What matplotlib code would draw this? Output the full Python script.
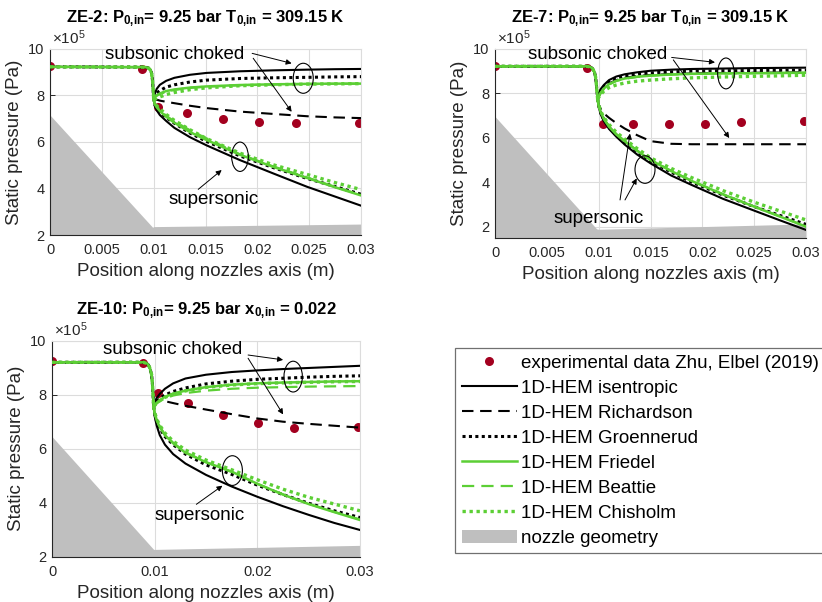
import matplotlib
matplotlib.use("Agg")
import matplotlib.pyplot as plt
from matplotlib.patches import Ellipse, Patch
from matplotlib.lines import Line2D

plt.rcParams['font.family'] = ['Liberation Sans', 'DejaVu Sans']
plt.rcParams['mathtext.fontset'] = 'custom'
plt.rcParams['mathtext.rm'] = 'Liberation Sans'
plt.rcParams['mathtext.bf'] = 'Liberation Sans:bold'
plt.rcParams['mathtext.it'] = 'Liberation Sans:italic'

# ---------------------------------------------------------------- data
# pressures in units of 1e5 Pa, positions in m
xtick_fine = [0, 0.005, 0.01, 0.015, 0.02, 0.025, 0.03]
xtick_fine_labels = ['0', '0.005', '0.01', '0.015', '0.02', '0.025', '0.03']
xtick_coarse = [0, 0.01, 0.02, 0.03]
xtick_coarse_labels = ['0', '0.01', '0.02', '0.03']
ytick_vals = [2, 4, 6, 8, 10]
ytick_labels = ['2', '4', '6', '8', '10']

legend_labels = ['experimental data Zhu, Elbel (2019)', '1D-HEM isentropic',
                 '1D-HEM Richardson', '1D-HEM Groennerud', '1D-HEM Friedel',
                 '1D-HEM Beattie', '1D-HEM Chisholm', 'nozzle geometry']

# ---- ZE-2
ze2_exp_x = [0.0, 0.00885, 0.01045, 0.0132, 0.0167, 0.0202, 0.0237, 0.0298]
ze2_exp_p = [9.27, 9.14, 7.51, 7.25, 6.97, 6.87, 6.81, 6.80]
ze2_inlet_x = [0.0, 0.0092, 0.0095, 0.0097, 0.0098, 0.0099, 0.00995, 0.0100]
ze2_inlet_p = [9.22, 9.21, 9.17, 9.08, 8.95, 8.6, 8.2, 7.87]
ze2_branch_x = [0.0100, 0.0101, 0.0103, 0.0106, 0.0112, 0.0120, 0.0135,
                0.0151, 0.0183, 0.0215, 0.0248, 0.0275, 0.0300]
ze2_isen_sub = [7.87, 8.05, 8.28, 8.45, 8.62, 8.75, 8.88, 8.96, 9.03, 9.07, 9.10, 9.12, 9.13]
ze2_isen_sup = [7.87, 7.55, 7.35, 7.15, 6.9, 6.6, 6.2, 5.85, 5.22, 4.65, 4.07, 3.65, 3.26]
ze2_rich = [7.87, 7.84, 7.81, 7.77, 7.72, 7.66, 7.55, 7.45, 7.3, 7.2, 7.1, 7.05, 7.02]
ze2_groen_sub = [7.87, 7.98, 8.1, 8.2, 8.35, 8.45, 8.57, 8.65, 8.72, 8.75, 8.77, 8.79, 8.8]
ze2_groen_sup = [7.87, 7.6, 7.45, 7.28, 7.05, 6.8, 6.38, 6.02, 5.4, 4.9, 4.43, 4.08, 3.75]
ze2_fried_sub = [7.87, 7.93, 8.0, 8.08, 8.18, 8.25, 8.33, 8.38, 8.44, 8.47, 8.49, 8.5, 8.5]
ze2_fried_sup = [7.87, 7.62, 7.48, 7.32, 7.08, 6.82, 6.42, 6.08, 5.45, 4.93, 4.45, 4.05, 3.70]
ze2_beat_sub = [7.87, 7.92, 7.98, 8.05, 8.15, 8.23, 8.32, 8.37, 8.43, 8.46, 8.48, 8.49, 8.5]
ze2_beat_sup = [7.87, 7.65, 7.52, 7.37, 7.12, 6.88, 6.5, 6.15, 5.47, 4.95, 4.47, 4.07, 3.72]
ze2_chis_sub = [7.87, 7.86, 7.87, 7.93, 8.03, 8.12, 8.24, 8.32, 8.41, 8.45, 8.48, 8.49, 8.5]
ze2_chis_sup = [7.87, 7.66, 7.55, 7.42, 7.18, 6.92, 6.52, 6.14, 5.52, 5.02, 4.6, 4.25, 3.95]
ze2_nozzle_x = [0.0, 0.0099, 0.0100, 0.0300]
ze2_nozzle_p = [7.15, 2.33, 2.36, 2.47]

# ---- ZE-7
ze7_exp_x = [0.0, 0.00885, 0.01045, 0.0133, 0.0168, 0.0203, 0.0237, 0.0298]
ze7_exp_p = [9.22, 9.15, 6.60, 6.60, 6.64, 6.64, 6.71, 6.75]
ze7_inlet_x = [0.0, 0.0089, 0.0092, 0.0094, 0.0096, 0.0097, 0.0098, 0.0099]
ze7_inlet_p = [9.22, 9.22, 9.19, 9.12, 8.95, 8.75, 8.3, 7.75]
ze7_branch_x = [0.0099, 0.0100, 0.0102, 0.0105, 0.0110, 0.0117, 0.0125, 0.0137,
                0.0150, 0.0170, 0.0190, 0.0220, 0.0250, 0.0275, 0.0300]
ze7_isen_sub = [7.75, 8.0, 8.2, 8.38, 8.6, 8.76, 8.86, 8.95, 9.02, 9.07, 9.1, 9.12, 9.14, 9.15, 9.16]
ze7_isen_sup = [7.75, 7.4, 7.05, 6.75, 6.4, 6.05, 5.7, 5.25, 4.85, 4.3, 3.87, 3.25, 2.72, 2.28, 1.85]
ze7_rich_sub = [7.75, 7.85, 8.05, 8.25, 8.45, 8.6, 8.7, 8.78, 8.83, 8.87, 8.9, 8.92, 8.93, 8.94, 8.95]
ze7_rich_sup = [7.75, 7.5, 7.3, 7.1, 6.9, 6.66, 6.42, 6.12, 5.85, 5.73, 5.71, 5.71, 5.71, 5.71, 5.71]
ze7_groen_sub = [7.75, 7.95, 8.12, 8.3, 8.52, 8.68, 8.78, 8.86, 8.92, 8.97, 9.0, 9.02, 9.03, 9.04, 9.05]
ze7_groen_sup = [7.75, 7.45, 7.12, 6.82, 6.47, 6.12, 5.8, 5.37, 4.96, 4.45, 4.0, 3.42, 2.9, 2.5, 2.1]
ze7_fried_sub = [7.75, 7.85, 8.03, 8.22, 8.42, 8.57, 8.67, 8.75, 8.8, 8.85, 8.88, 8.9, 8.91, 8.92, 8.93]
ze7_fried_sup = [7.75, 7.45, 7.15, 6.85, 6.5, 6.15, 5.85, 5.42, 5.0, 4.5, 4.05, 3.45, 2.9, 2.45, 2.0]
ze7_beat_sub = [7.75, 7.84, 8.02, 8.2, 8.4, 8.56, 8.66, 8.74, 8.8, 8.85, 8.88, 8.9, 8.91, 8.92, 8.93]
ze7_beat_sup = [7.75, 7.46, 7.16, 6.86, 6.52, 6.17, 5.86, 5.43, 5.01, 4.51, 4.06, 3.46, 2.91, 2.46, 2.01]
ze7_chis_sub = [7.75, 7.82, 7.95, 8.1, 8.26, 8.38, 8.47, 8.55, 8.6, 8.66, 8.7, 8.74, 8.77, 8.79, 8.82]
ze7_chis_sup = [7.75, 7.5, 7.2, 6.92, 6.6, 6.25, 5.95, 5.52, 5.1, 4.62, 4.2, 3.62, 3.1, 2.7, 2.3]
ze7_nozzle_x = [0.0, 0.0098, 0.0100, 0.0300]
ze7_nozzle_p = [6.96, 1.9, 1.88, 2.12]

# ---- ZE-10
ze10_exp_x = [0.0, 0.00889, 0.01035, 0.01323, 0.0167, 0.0201, 0.0236, 0.0298]
ze10_exp_p = [9.26, 9.16, 8.07, 7.68, 7.25, 6.96, 6.78, 6.79]
ze10_inlet_x = [0.0, 0.0089, 0.0093, 0.0095, 0.0097, 0.0098, 0.0099]
ze10_inlet_p = [9.2, 9.2, 9.15, 9.02, 8.75, 8.3, 7.56]
ze10_branch_x = [0.0099, 0.0100, 0.0102, 0.0105, 0.0110, 0.0118, 0.0130,
                 0.0150, 0.0175, 0.0200, 0.0225, 0.0250, 0.0275, 0.0300]
ze10_isen_sub = [7.56, 7.72, 7.88, 8.03, 8.22, 8.42, 8.6, 8.74, 8.84, 8.9, 8.95, 8.99, 9.03, 9.07]
ze10_isen_sup = [7.56, 7.2, 6.85, 6.5, 6.15, 5.8, 5.45, 5.03, 4.6, 4.22, 3.87, 3.55, 3.25, 2.99]
ze10_rich = [7.56, 7.72, 7.8, 7.8, 7.76, 7.69, 7.59, 7.45, 7.28, 7.12, 7.0, 6.92, 6.85, 6.78]
ze10_groen_sub = [7.56, 7.65, 7.75, 7.86, 7.99, 8.12, 8.25, 8.4, 8.5, 8.57, 8.61, 8.65, 8.68, 8.7]
ze10_groen_sup = [7.56, 7.3, 7.0, 6.75, 6.45, 6.15, 5.8, 5.4, 5.05, 4.65, 4.3, 3.98, 3.7, 3.45]
ze10_fried_sub = [7.56, 7.62, 7.7, 7.8, 7.92, 8.04, 8.15, 8.28, 8.37, 8.42, 8.45, 8.47, 8.49, 8.5]
ze10_fried_sup = [7.56, 7.3, 7.05, 6.8, 6.5, 6.2, 5.85, 5.5, 5.15, 4.7, 4.3, 3.95, 3.65, 3.36]
ze10_beat_sub = [7.56, 7.6, 7.67, 7.76, 7.86, 7.97, 8.06, 8.15, 8.22, 8.26, 8.28, 8.3, 8.31, 8.32]
ze10_beat_sup = [7.56, 7.32, 7.07, 6.82, 6.52, 6.22, 5.87, 5.5, 5.14, 4.7, 4.31, 3.96, 3.66, 3.38]
ze10_chis_sub = [7.56, 7.6, 7.68, 7.78, 7.9, 8.02, 8.14, 8.27, 8.36, 8.41, 8.44, 8.46, 8.48, 8.49]
ze10_chis_sup = [7.56, 7.35, 7.1, 6.87, 6.58, 6.28, 5.95, 5.58, 5.22, 4.85, 4.5, 4.2, 3.95, 3.7]
ze10_nozzle_x = [0.0, 0.0099, 0.0100, 0.0300]
ze10_nozzle_p = [6.45, 2.27, 2.27, 2.42]

# ---------------------------------------------------------------- styles
GREEN = '#5ccf35'
RED = '#a3001f'
GRAY = '#bfbfbf'
AXCOL = '#262626'
GRIDCOL = '#dcdcdc'
FS_TICK = 10.5
FS_LABEL = 13.5
FS_TITLE = 12
FS_NOTE = 13.5
FS_LEGEND = 13.5

STY = {
    'isen': dict(color='k', ls='-', lw=1.5),
    'rich': dict(color='k', ls=(0, (5.5, 3.2)), lw=1.5),
    'groen': dict(color='k', ls=(0, (1, 1.1)), lw=2.2),
    'fried': dict(color=GREEN, ls='-', lw=1.8),
    'beat': dict(color=GREEN, ls=(0, (5.5, 3.2)), lw=1.6),
    'chis': dict(color=GREEN, ls=(0, (1, 1.1)), lw=2.4),
}

fig = plt.figure(figsize=(8.22, 6.02), dpi=100)
W, H = 822.0, 602.0


def make_axes(left, top, right, bottom):
    return fig.add_axes([left / W, 1 - bottom / H, (right - left) / W, (bottom - top) / H])


def style_axes(ax, xticks, xlabels, ylim):
    ax.set_xlim(0, 0.03)
    ax.set_ylim(*ylim)
    ax.set_xticks(xticks)
    ax.set_xticklabels(xlabels)
    ax.set_yticks(ytick_vals)
    ax.set_yticklabels(ytick_labels)
    ax.set_axisbelow(True)
    ax.grid(True, color=GRIDCOL, lw=0.8)
    for s in ('left', 'bottom'):
        ax.spines[s].set_color(AXCOL)
        ax.spines[s].set_linewidth(0.8)
    for s in ('top', 'right'):
        ax.spines[s].set_color(GRIDCOL)
        ax.spines[s].set_linewidth(0.8)
    ax.tick_params(direction='in', length=3.5, width=0.7, color=AXCOL,
                   labelsize=FS_TICK, labelcolor=AXCOL, top=False, right=False)
    ax.tick_params(axis='x', pad=6)
    ax.tick_params(axis='y', pad=4)
    ax.set_xlabel('Position along nozzles axis (m)', fontsize=FS_LABEL, color=AXCOL, labelpad=4)
    ax.set_ylabel('Static pressure (Pa)', fontsize=FS_LABEL, color=AXCOL, labelpad=4)
    ax.text(0.008, 1.01, '×10$^{5}$', transform=ax.transAxes, fontsize=11,
            color=AXCOL, ha='left', va='bottom')


def draw_panel(ax, d, ylim):
    ax.fill_between(d['nozzle_x'], ylim[0], d['nozzle_p'], color=GRAY, lw=0, zorder=1)
    ax.plot(d['exp_x'], d['exp_p'], 'o', color=RED, ms=6.5, mew=0, zorder=2)
    bx = d['branch_x']
    for key in ('isen', 'rich', 'groen', 'fried', 'beat', 'chis'):
        ax.plot(d['inlet_x'], d['inlet_p'], zorder=3, **STY[key])
        for suffix in ('_sub', '_sup', ''):
            if key + suffix in d:
                ax.plot(bx, d[key + suffix], zorder=3, **STY[key])


def note(ax, xy_text, xy_arrows, ellipses, text):
    ax.text(*xy_text, text, fontsize=FS_NOTE, ha='center', va='center', zorder=6)
    for start, end in xy_arrows:
        ax.annotate('', xy=end, xytext=start, zorder=6,
                    arrowprops=dict(arrowstyle='-|>', lw=0.7, color='k',
                                    mutation_scale=8, shrinkA=0, shrinkB=0))
    for (cx, cy, w, h) in ellipses:
        ax.add_patch(Ellipse((cx, cy), w, h, fill=False, ec='k', lw=0.8, zorder=6))


SUB = r'$_{\mathbf{0{,}in}}$'

# ---- ZE-2
ax1 = make_axes(50, 48.7, 361, 235)
ze2 = dict(exp_x=ze2_exp_x, exp_p=ze2_exp_p, inlet_x=ze2_inlet_x, inlet_p=ze2_inlet_p,
           branch_x=ze2_branch_x, isen_sub=ze2_isen_sub, isen_sup=ze2_isen_sup,
           rich=ze2_rich, groen_sub=ze2_groen_sub, groen_sup=ze2_groen_sup,
           fried_sub=ze2_fried_sub, fried_sup=ze2_fried_sup, beat_sub=ze2_beat_sub,
           beat_sup=ze2_beat_sup, chis_sub=ze2_chis_sub, chis_sup=ze2_chis_sup,
           nozzle_x=ze2_nozzle_x, nozzle_p=ze2_nozzle_p)
draw_panel(ax1, ze2, (2, 10))
style_axes(ax1, xtick_fine, xtick_fine_labels, (2, 10))
ax1.set_title('ZE-2: P' + SUB + '= 9.25 bar T' + SUB + ' = 309.15 K',
              fontsize=FS_TITLE, fontweight='bold', pad=19)
note(ax1, (0.01206, 9.73), [((0.0195, 9.80), (0.02331, 9.37)),
                           ((0.0196, 9.59), (0.02331, 7.29))],
     [(0.02443, 8.73, 0.00193, 1.29)], 'subsonic choked')
note(ax1, (0.01579, 3.53), [((0.0143, 3.96), (0.01656, 4.79))],
     [(0.01833, 5.36, 0.00161, 1.26)], 'supersonic')

# ---- ZE-7
ax2 = make_axes(495, 49, 806, 237.7)
ze7 = dict(exp_x=ze7_exp_x, exp_p=ze7_exp_p, inlet_x=ze7_inlet_x, inlet_p=ze7_inlet_p,
           branch_x=ze7_branch_x, isen_sub=ze7_isen_sub, isen_sup=ze7_isen_sup,
           rich_sub=ze7_rich_sub, rich_sup=ze7_rich_sup,
           groen_sub=ze7_groen_sub, groen_sup=ze7_groen_sup,
           fried_sub=ze7_fried_sub, fried_sup=ze7_fried_sup, beat_sub=ze7_beat_sub,
           beat_sup=ze7_beat_sup, chis_sub=ze7_chis_sub, chis_sup=ze7_chis_sup,
           nozzle_x=ze7_nozzle_x, nozzle_p=ze7_nozzle_p)
draw_panel(ax2, ze7, (1.5, 10))
style_axes(ax2, xtick_fine, xtick_fine_labels, (1.5, 10))
ax2.set_title('ZE-7: P' + SUB + '= 9.25 bar T' + SUB + ' = 309.15 K',
              fontsize=FS_TITLE, fontweight='bold', pad=19)
note(ax2, (0.00986, 9.73), [((0.01704, 9.62), (0.02122, 9.40)),
                           ((0.0172, 9.51), (0.0226, 5.99))],
     [(0.02228, 8.9, 0.00161, 1.39)], 'subsonic choked')
note(ax2, (0.01001, 2.38), [((0.01206, 3.2), (0.01302, 6.19)),
                           ((0.01254, 3.2), (0.01367, 4.17))],
     [(0.01447, 4.57, 0.00193, 1.24)], 'supersonic')

# ---- ZE-10
ax3 = make_axes(52, 340.7, 360, 556.7)
ze10 = dict(exp_x=ze10_exp_x, exp_p=ze10_exp_p, inlet_x=ze10_inlet_x, inlet_p=ze10_inlet_p,
            branch_x=ze10_branch_x, isen_sub=ze10_isen_sub, isen_sup=ze10_isen_sup,
            rich=ze10_rich, groen_sub=ze10_groen_sub, groen_sup=ze10_groen_sup,
            fried_sub=ze10_fried_sub, fried_sup=ze10_fried_sup, beat_sub=ze10_beat_sub,
            beat_sup=ze10_beat_sup, chis_sub=ze10_chis_sub, chis_sup=ze10_chis_sup,
            nozzle_x=ze10_nozzle_x, nozzle_p=ze10_nozzle_p)
draw_panel(ax3, ze10, (2, 10))
style_axes(ax3, xtick_coarse, xtick_coarse_labels, (2, 10))
ax3.set_title('ZE-10: P' + SUB + '= 9.25 bar x' + SUB + ' = 0.022',
              fontsize=FS_TITLE, fontweight='bold', pad=19)
note(ax3, (0.01173, 9.69), [((0.0191, 9.47), (0.02251, 9.29)),
                           ((0.0191, 9.35), (0.02251, 7.27))],
     [(0.02349, 8.67, 0.00179, 1.14)], 'subsonic choked')
note(ax3, (0.01441, 3.54), [((0.01406, 3.94), (0.0166, 4.63))],
     [(0.01757, 5.19, 0.00195, 1.1)], 'supersonic')

# ---- shared legend
handles = [Line2D([], [], marker='o', color=RED, ls='none', ms=6.5, mew=0)]
for key in ('isen', 'rich', 'groen', 'fried', 'beat', 'chis'):
    handles.append(Line2D([], [], **STY[key]))
handles.append(Patch(facecolor=GRAY, edgecolor='none'))
leg = fig.legend(handles, legend_labels, loc='upper left',
                 bbox_to_anchor=(455 / W, 1 - 348 / H), bbox_transform=fig.transFigure,
                 borderaxespad=0, fontsize=FS_LEGEND, handlelength=2.95, handletextpad=0.2,
                 labelspacing=0.42, borderpad=0.35, fancybox=False, framealpha=1,
                 edgecolor='#707070')
leg.get_frame().set_linewidth(0.9)

fig.savefig('out.png', dpi=100)
